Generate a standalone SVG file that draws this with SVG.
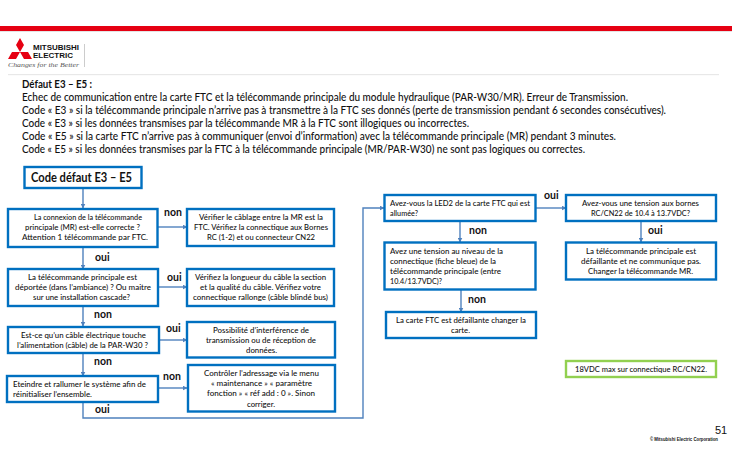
<svg xmlns="http://www.w3.org/2000/svg" width="732" height="450" viewBox="0 0 732 450">
<defs>
<style>
text{font-family:Lato,"Open Sans","Liberation Sans",sans-serif;fill:#111}
.h{font-size:10.7px;font-weight:500}
.hb{font-size:10.7px;font-weight:700}
.t{font-size:8.4px;font-weight:500}
.l{font-size:10.5px;font-weight:700}
.b{fill:#fff;stroke:#0070c0;stroke-width:2.4}
.g{fill:#fff;stroke:#92d050;stroke-width:2.4}
.c{fill:none;stroke:#4f81bd;stroke-width:1.4}
</style>
<marker id="a" markerWidth="5" markerHeight="5" refX="4.5" refY="2.5" orient="auto" markerUnits="userSpaceOnUse"><path d="M0 0L5 2.5L0 5Z" fill="#4f81bd"/></marker>
</defs>
<rect width="732" height="450" fill="#fff"/>
<rect x="0" y="26" width="732" height="5" fill="#e60012"/>
<rect x="0" y="31" width="732" height="1" fill="#e4e4e4"/>
<rect x="8" y="74" width="711" height="1.2" fill="#e8e8e8"/>
<g id="logo">
<path d="M20 38L24 45L20 52L16 45Z M20 52L28 52L32 59L24 59Z M20 52L12 52L8 59L16 59Z" fill="#e60012"/>
<text x="33" y="50" textLength="46" lengthAdjust="spacingAndGlyphs" style="font-family:'Liberation Sans',sans-serif;font-size:7.500px;font-weight:700;fill:#111">MITSUBISHI</text>
<text x="33" y="58" textLength="40" lengthAdjust="spacingAndGlyphs" style="font-family:'Liberation Sans',sans-serif;font-size:7.500px;font-weight:700;fill:#111">ELECTRIC</text>
<text x="8" y="67" textLength="71" lengthAdjust="spacingAndGlyphs" style="font-family:'Liberation Serif',serif;font-size:7px;font-style:italic;fill:#555">Changes for the Better</text>
<rect x="84" y="44" width="1" height="23" fill="#ccc"/>
</g>
<g id="header">
<text class="hb" x="22" y="88" textLength="70" lengthAdjust="spacingAndGlyphs">Défaut E3 – E5 :</text>
<text class="h" x="22" y="101" textLength="606" lengthAdjust="spacingAndGlyphs">Echec de communication entre la carte FTC et la télécommande principale du module hydraulique (PAR-W30/MR). Erreur de Transmission.</text>
<text class="h" x="22" y="114" textLength="644" lengthAdjust="spacingAndGlyphs">Code « E3 » si la télécommande principale n’arrive pas à transmettre à la FTC ses donnés (perte de transmission pendant 6 secondes consécutives).</text>
<text class="h" x="22" y="127" textLength="447" lengthAdjust="spacingAndGlyphs">Code « E3 » si les données transmises par la télécommande MR à la FTC sont illogiques ou incorrectes.</text>
<text class="h" x="22" y="140" textLength="594" lengthAdjust="spacingAndGlyphs">Code « E5 » si la carte FTC n’arrive pas à communiquer (envoi d’information) avec la télécommande principale (MR) pendant 3 minutes.</text>
<text class="h" x="22" y="153" textLength="563" lengthAdjust="spacingAndGlyphs">Code « E5 » si les données transmises par la FTC à la télécommande principale (MR/PAR-W30) ne sont pas logiques ou correctes.</text>
</g>
<g id="connectors">
<path class="c" marker-end="url(#a)" d="M83 188V208"/>
<path class="c" marker-end="url(#a)" d="M158 227H187"/>
<path class="c" marker-end="url(#a)" d="M83 247V269"/>
<path class="c" marker-end="url(#a)" d="M158 287H187"/>
<path class="c" marker-end="url(#a)" d="M83 306V326"/>
<path class="c" marker-end="url(#a)" d="M159 340H187"/>
<path class="c" marker-end="url(#a)" d="M83 353V376"/>
<path class="c" marker-end="url(#a)" d="M158 388H187"/>
<path class="c" marker-end="url(#a)" d="M83 402V418H363V208H384"/>
<path class="c" marker-end="url(#a)" d="M460 221V242"/>
<path class="c" marker-end="url(#a)" d="M536 208H566"/>
<path class="c" marker-end="url(#a)" d="M641 221V242"/>
<path class="c" marker-end="url(#a)" d="M461 290V312"/>
</g>
<g id="start"><rect class="b" x="24.500" y="167" width="117" height="21"/><text x="31" y="182" textLength="101" lengthAdjust="spacingAndGlyphs" style="font-size:12.500px;font-weight:700">Code défaut E3 – E5</text></g>
<g id="q1"><rect class="b" x="8" y="209" width="149.500" height="38"/>
<text class="t" x="34" y="220" textLength="108" lengthAdjust="spacingAndGlyphs">La connexion de la télécommande</text>
<text class="t" x="25" y="230" textLength="115" lengthAdjust="spacingAndGlyphs">principale (MR) est-elle correcte ?</text>
<text class="t" x="22" y="240" textLength="126" lengthAdjust="spacingAndGlyphs">Attention 1 télécommande par FTC.</text></g>
<g id="a1"><rect class="b" x="187" y="209" width="147" height="37"/>
<text class="t" x="199" y="220" textLength="124" lengthAdjust="spacingAndGlyphs">Vérifier le câblage entre la MR est la</text>
<text class="t" x="194" y="230" textLength="134" lengthAdjust="spacingAndGlyphs">FTC. Vérifiez la connectique aux Bornes</text>
<text class="t" x="207" y="240" textLength="108" lengthAdjust="spacingAndGlyphs">RC (1-2) et ou connecteur CN22</text></g>
<g id="q2"><rect class="b" x="8" y="269" width="150" height="37"/>
<text class="t" x="28" y="280" textLength="109" lengthAdjust="spacingAndGlyphs">La télécommande principale est</text>
<text class="t" x="15" y="290" textLength="136" lengthAdjust="spacingAndGlyphs">déportée (dans l’ambiance) ? Ou maitre</text>
<text class="t" x="33" y="300" textLength="97" lengthAdjust="spacingAndGlyphs">sur une installation cascade?</text></g>
<g id="a2"><rect class="b" x="187" y="269" width="147" height="37"/>
<text class="t" x="195" y="280" textLength="131" lengthAdjust="spacingAndGlyphs">Vérifiez la longueur du câble la section</text>
<text class="t" x="200" y="290" textLength="121" lengthAdjust="spacingAndGlyphs">et la qualité du câble. Vérifiez votre</text>
<text class="t" x="193" y="300" textLength="135" lengthAdjust="spacingAndGlyphs">connectique rallonge (câble blindé bus)</text></g>
<g id="q3"><rect class="b" x="8" y="327" width="151" height="26"/>
<text class="t" x="21" y="338" textLength="125" lengthAdjust="spacingAndGlyphs">Est-ce qu’un câble électrique touche</text>
<text class="t" x="17" y="348" textLength="131" lengthAdjust="spacingAndGlyphs">l’alimentation (câble) de la PAR-W30 ?</text></g>
<g id="a3"><rect class="b" x="187" y="322" width="148" height="35.500"/>
<text class="t" x="213" y="332.500" textLength="96" lengthAdjust="spacingAndGlyphs">Possibilité d’interférence de</text>
<text class="t" x="206" y="343" textLength="110" lengthAdjust="spacingAndGlyphs">transmission ou de réception de</text>
<text class="t" x="246" y="353" textLength="31" lengthAdjust="spacingAndGlyphs">données.</text></g>
<g id="q4"><rect class="b" x="7" y="376" width="151" height="26"/>
<text class="t" x="13" y="387" textLength="133" lengthAdjust="spacingAndGlyphs">Eteindre et rallumer le système afin de</text>
<text class="t" x="13" y="397" textLength="79" lengthAdjust="spacingAndGlyphs">réinitialiser l’ensemble.</text></g>
<g id="a4"><rect class="b" x="188" y="365" width="147" height="46.500"/>
<text class="t" x="204" y="376" textLength="115" lengthAdjust="spacingAndGlyphs">Contrôler l’adressage via le menu</text>
<text class="t" x="211" y="386" textLength="101" lengthAdjust="spacingAndGlyphs">« maintenance » « paramètre</text>
<text class="t" x="207" y="396" textLength="108" lengthAdjust="spacingAndGlyphs">fonction » « réf add : 0 ». Sinon</text>
<text class="t" x="247" y="407" textLength="28" lengthAdjust="spacingAndGlyphs">corriger.</text></g>
<g id="q5"><rect class="b" x="384.500" y="195" width="151" height="26"/>
<text class="t" x="390" y="206" textLength="140" lengthAdjust="spacingAndGlyphs">Avez-vous la LED2 de la carte FTC qui est</text>
<text class="t" x="390" y="216" textLength="28" lengthAdjust="spacingAndGlyphs">allumée?</text></g>
<g id="q6"><rect class="b" x="566" y="195" width="150" height="26"/>
<text class="t" x="582" y="206" textLength="117" lengthAdjust="spacingAndGlyphs">Avez-vous une tension aux bornes</text>
<text class="t" x="591" y="216" textLength="99" lengthAdjust="spacingAndGlyphs">RC/CN22 de 10.4 à 13.7VDC?</text></g>
<g id="q7"><rect class="b" x="384.500" y="242.500" width="151" height="47"/>
<text class="t" x="390" y="254" textLength="113" lengthAdjust="spacingAndGlyphs">Avez une tension au niveau de la</text>
<text class="t" x="390" y="264" textLength="106" lengthAdjust="spacingAndGlyphs">connectique (fiche bleue) de la</text>
<text class="t" x="390" y="274" textLength="111" lengthAdjust="spacingAndGlyphs">télécommande principale (entre</text>
<text class="t" x="390" y="284" textLength="52" lengthAdjust="spacingAndGlyphs">10.4/13.7VDC)?</text></g>
<g id="a6"><rect class="b" x="566" y="242.500" width="150" height="37"/>
<text class="t" x="586" y="254" textLength="110" lengthAdjust="spacingAndGlyphs">La télécommande principale est</text>
<text class="t" x="581" y="264" textLength="120" lengthAdjust="spacingAndGlyphs">défaillante et ne communique pas.</text>
<text class="t" x="588" y="274" textLength="105" lengthAdjust="spacingAndGlyphs">Changer la télécommande MR.</text></g>
<g id="a7"><rect class="b" x="386" y="312" width="150" height="26"/>
<text class="t" x="396" y="323" textLength="130" lengthAdjust="spacingAndGlyphs">La carte FTC est défaillante changer la</text>
<text class="t" x="451" y="333" textLength="19" lengthAdjust="spacingAndGlyphs">carte.</text></g>
<g id="note"><rect class="g" x="566" y="361" width="150" height="16"/>
<text class="t" x="575" y="372" textLength="132" lengthAdjust="spacingAndGlyphs">18VDC max sur connectique RC/CN22.</text></g>
<g id="labels">
<text class="l" x="164" y="216">non</text>
<text class="l" x="95" y="261">oui</text>
<text class="l" x="167" y="281">oui</text>
<text class="l" x="94" y="318">non</text>
<text class="l" x="166" y="332">oui</text>
<text class="l" x="94" y="365">non</text>
<text class="l" x="163" y="380">non</text>
<text class="l" x="95" y="413">oui</text>
<text class="l" x="544" y="199">oui</text>
<text class="l" x="469" y="234">non</text>
<text class="l" x="648" y="234">oui</text>
<text class="l" x="468" y="303">non</text>
</g>
<g id="footer">
<text x="715" y="434" style="font-family:'Liberation Sans',sans-serif;font-size:11px">51</text>
<text x="650" y="441" textLength="68" lengthAdjust="spacingAndGlyphs" style="font-family:'Liberation Sans',sans-serif;font-size:4.500px;font-weight:700">© Mitsubishi Electric Corporation</text>
</g>
</svg>
